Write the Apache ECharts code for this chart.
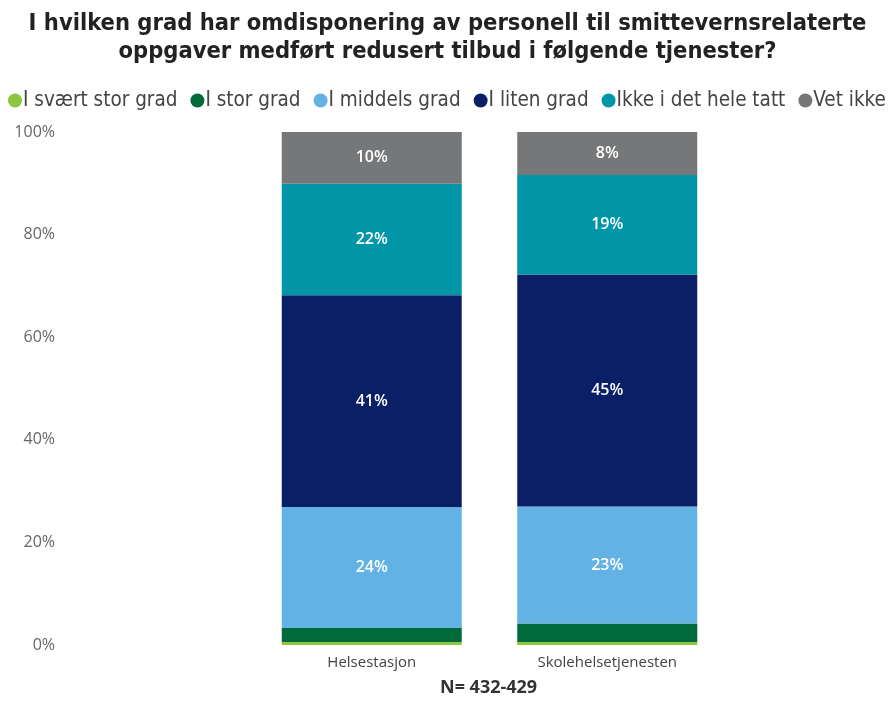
<!DOCTYPE html>
<html><head><meta charset="utf-8">
<script src="https://cdn.jsdelivr.net/npm/echarts@6/dist/echarts.min.js"></script>
<style>html,body{margin:0;padding:0;background:#fff}#c{width:895px;height:704px}</style>
</head><body><div id="c"></div>
<script>
var categories = ['Helsestasjon', 'Skolehelsetjenesten'];
var seriesNames = ['I svært stor grad', 'I stor grad', 'I middels grad', 'I liten grad', 'Ikke i det hele tatt', 'Vet ikke'];
var sveartStor = [0.6, 0.6];
var stor = [2.7, 3.6];
var middels = [23.6, 22.8];
var liten = [41.3, 45.2];
var ikke = [21.7, 19.4];
var vetIkke = [10.1, 8.4];
var yTicks = [0, 20, 40, 60, 80, 100];
var colors = ['#8cc63e', '#006a3a', '#62b3e4', '#0b1f66', '#0096a8', '#757779'];

var values = [sveartStor, stor, middels, liten, ikke, vetIkke];
var chart = echarts.init(document.getElementById('c'));
chart.setOption({
  animation: false,
  title: {
    text: 'I hvilken grad har omdisponering av personell til smittevernsrelaterte\noppgaver medført redusert tilbud i følgende tjenester?',
    left: 'center', top: 5,
    textStyle: {fontFamily: '"DejaVu Sans Condensed", "DejaVu Sans", sans-serif', fontWeight: 'bold', fontSize: 23.5, color: '#222', lineHeight: 28}
  },
  legend: {
    top: 90, left: 8, width: 887, padding: 0, itemGap: 13, itemWidth: 14, itemHeight: 14, icon: 'circle',
    textStyle: {fontFamily: '"DejaVu Sans Condensed", "DejaVu Sans", sans-serif', fontSize: 20.5, color: '#444', padding: [0,0,0,-4]},
    data: seriesNames
  },
  grid: {left: 254, right: 170, top: 132, bottom: 59},
  xAxis: {
    type: 'category', data: categories,
    axisLine: {show: false}, axisTick: {show: false},
    axisLabel: {fontFamily: 'Open Sans', fontSize: 15, color: '#444', margin: 10}
  },
  yAxis: {
    type: 'value', min: 0, max: 100, interval: 20,
    splitLine: {show: false}, axisLine: {show: false}, axisTick: {show: false},
    axisLabel: {fontFamily: 'Open Sans', fontSize: 16, color: '#666', margin: 199,
      formatter: function(v){ return yTicks.indexOf(v) >= 0 ? v + '%' : ''; }}
  },
  series: seriesNames.map(function(n, i){
    return {
      name: n, type: 'bar', stack: 'a', barWidth: 180,
      itemStyle: {color: colors[i]},
      data: values[i],
      label: {show: true, position: 'inside', color: '#fff', fontFamily: 'Open Sans', fontWeight: 600, fontSize: 16,
        formatter: function(p){ return p.value >= 5 ? Math.round(p.value) + '%' : ''; }}
    };
  }),
  graphic: [{
    type: 'text', left: 440, top: 679,
    style: {text: 'N= 432-429', fontFamily: 'Open Sans', fontWeight: 'bold', fontSize: 18, fill: '#333'}
  }],
  color: colors
});
</script></body></html>
